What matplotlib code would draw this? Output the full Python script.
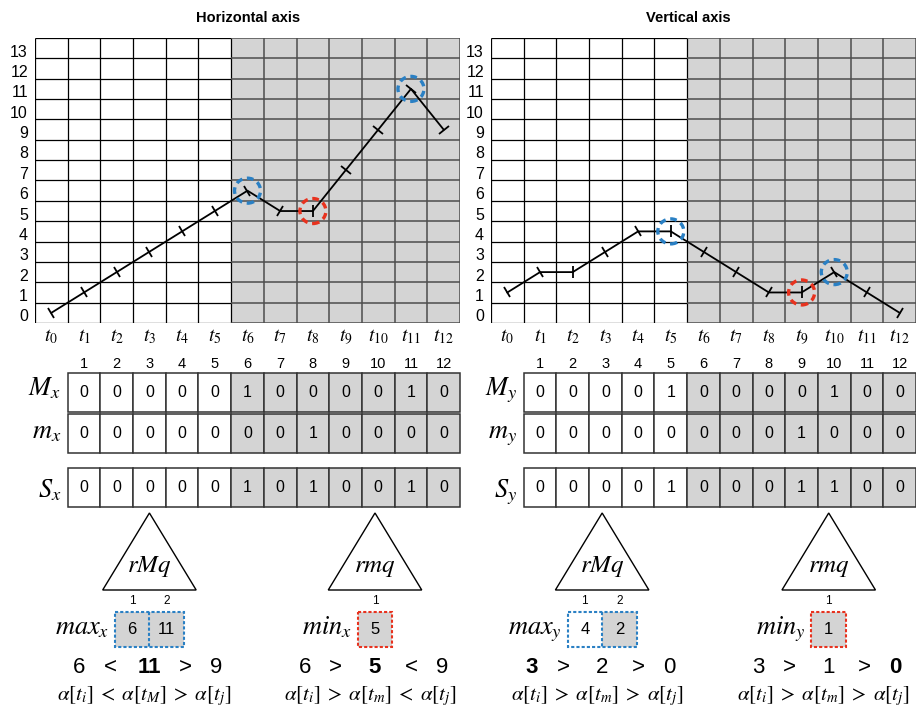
import matplotlib
matplotlib.use("Agg")
import matplotlib.pyplot as plt
from matplotlib.patches import Rectangle, Polygon, Ellipse
from matplotlib.markers import MarkerStyle
from matplotlib.transforms import Affine2D, ScaledTranslation
import numpy as np

# ---------------- data ----------------
steps = list(range(13))
step_labels = [r"$t_{%d}$" % i for i in steps]
levels = list(range(14))
horiz_values = [0, 1, 2, 3, 4, 5, 6, 5, 5, 7, 9, 11, 9]
vert_values = [1, 2, 2, 3, 4, 4, 3, 2, 1, 1, 2, 1, 0]
shade_start = 6

cell_index = list(range(1, 13))
M_x = [0, 0, 0, 0, 0, 1, 0, 0, 0, 0, 1, 0]
m_x = [0, 0, 0, 0, 0, 0, 0, 1, 0, 0, 0, 0]
S_x = [0, 0, 0, 0, 0, 1, 0, 1, 0, 0, 1, 0]
M_y = [0, 0, 0, 0, 1, 0, 0, 0, 0, 1, 0, 0]
m_y = [0, 0, 0, 0, 0, 0, 0, 0, 1, 0, 0, 0]
S_y = [0, 0, 0, 0, 1, 0, 0, 0, 1, 1, 0, 0]

max_x = [6, 11]
max_x_shaded = [True, True]
min_x = [5]
min_x_shaded = [True]
max_y = [4, 2]
max_y_shaded = [False, True]
min_y = [1]
min_y_shaded = [True]

circ_max_x = [6, 11]
circ_min_x = [8]
circ_max_y = [5, 10]
circ_min_y = [9]

cmp_max_x = ["6", "<", "11", ">", "9"]
cmp_min_x = ["6", ">", "5", "<", "9"]
cmp_max_y = ["3", ">", "2", ">", "0"]
cmp_min_y = ["3", ">", "1", ">", "0"]
bold_max_x, bold_min_x, bold_max_y, bold_min_y = 2, 2, 0, 4

formula_max_x = r"$\alpha[t_i]\;<\;\alpha[t_M]\;>\;\alpha[t_j]$"
formula_min_x = r"$\alpha[t_i]\;>\;\alpha[t_m]\;<\;\alpha[t_j]$"
formula_max_y = r"$\alpha[t_i]\;>\;\alpha[t_m]\;>\;\alpha[t_j]$"
formula_min_y = r"$\alpha[t_i]\;>\;\alpha[t_m]\;>\;\alpha[t_j]$"

# ---------------- style ----------------
W, H = 916, 706
plt.rcParams["font.family"] = ["Liberation Sans", "DejaVu Sans"]
plt.rcParams["mathtext.fontset"] = "stix"
GRAY = "#d4d4d4"
BLUE = "#2a80c4"
RED = "#e8321e"

fig = plt.figure(figsize=(W / 100, H / 100), dpi=100)


def px_axes(x, y, w, h):
    return fig.add_axes([x / W, 1 - (y + h) / H, w / W, h / H])


panels = [
    dict(x0=35, title="Horizontal axis", title_x=248, values=horiz_values,
         sub="x", rows=[M_x, m_x, S_x], names=["M", "m", "S"],
         maxv=max_x, maxs=max_x_shaded, minv=min_x, mins=min_x_shaded,
         cmax=circ_max_x, cmin=circ_min_x, tri=[3.0, 9.9],
         cmps=[(cmp_max_x, bold_max_x), (cmp_min_x, bold_min_x)],
         formulas=[formula_max_x, formula_min_x]),
    dict(x0=491, title="Vertical axis", title_x=688, values=vert_values,
         sub="y", rows=[M_y, m_y, S_y], names=["M", "m", "S"],
         maxv=max_y, maxs=max_y_shaded, minv=min_y, mins=min_y_shaded,
         cmax=circ_max_y, cmin=circ_min_y, tri=[2.9, 9.83],
         cmps=[(cmp_max_y, bold_max_y), (cmp_min_y, bold_min_y)],
         formulas=[formula_max_y, formula_min_y]),
]

GW, GH = 425, 285
colw = GW / 13.0
rowh = GH / 14.0

for p in panels:
    # ---------- grid panel ----------
    ax = px_axes(p["x0"], 38, GW, GH)
    ax.set_xlim(-0.5, 12.5)
    ax.set_ylim(-0.5, 13.5)
    for s in ax.spines.values():
        s.set_visible(False)
    ax.axvspan(shade_start - 0.5, 12.5, color=GRAY, zorder=0, lw=0)
    edges_x = np.arange(-0.5, 13.0, 1.0)
    edges_y = np.arange(-0.5, 14.0, 1.0)
    split = shade_start - 0.5
    ax.vlines([e for e in edges_x if e <= split], -0.5, 13.5, color="black", lw=0.9, zorder=1)
    ax.vlines([e for e in edges_x if e > split], -0.5, 13.5, color="#4d4d4d", lw=1.1, zorder=1)
    ax.hlines(edges_y, -0.5, split, color="black", lw=0.9, zorder=1)
    ax.hlines(edges_y, split, 12.5, color="#4d4d4d", lw=1.1, zorder=1)

    vals = p["values"]
    ax.plot(steps, vals, color="black", lw=1.3, zorder=3, clip_on=False)
    for i in steps:
        j0, j1 = (0, 1) if i == 0 else (i - 1, i)
        dx = (steps[j1] - steps[j0]) * colw
        dy = (vals[j1] - vals[j0]) * rowh
        ang = np.degrees(np.arctan2(dy, dx))
        mk = MarkerStyle("|", transform=Affine2D().rotate_deg(ang))
        ax.plot([steps[i]], [vals[i]], marker=mk, ms=9, mew=1.3, color="black",
                zorder=4, clip_on=False)

    for idx in p["cmax"]:
        ax.add_patch(Ellipse((idx, vals[idx]), 26 / colw, 25 / rowh, fill=False,
                             ec=BLUE, lw=2.4, ls=(0, (2.0, 1.4)), zorder=5, clip_on=False))
    for idx in p["cmin"]:
        ax.add_patch(Ellipse((idx, vals[idx]), 26 / colw, 25 / rowh, fill=False,
                             ec=RED, lw=2.4, ls=(0, (2.0, 1.4)), zorder=5, clip_on=False))

    ax.set_xticks(steps)
    ax.set_xticklabels(step_labels, fontsize=14)
    ax.tick_params(axis="x", length=0, pad=3)
    ax.set_yticks([])
    off = ax.transData + ScaledTranslation(-0.07, -0.04, fig.dpi_scale_trans)
    for v in levels:
        ax.text(-0.5, v, str(v), transform=off, ha="right", va="center", fontsize=11.5)

    fig.text(p["title_x"] / W, 1 - 18 / H, p["title"], ha="center", va="center",
             fontsize=10.5, fontweight="bold")

    # ---------- lower area ----------
    lo = px_axes(p["x0"], 340, GW, H - 340)
    lo.set_xlim(-0.5, 12.5)
    lo.set_ylim(H, 340)
    lo.axis("off")

    for i in cell_index:
        lo.text(i, 364, str(i), ha="center", va="center", fontsize=10.5)

    row_spans = [(373, 412), (414, 453), (468, 507)]
    label_base = [395, 438, 497]
    for rv, name, (yt, yb), lb in zip(p["rows"], p["names"], row_spans, label_base):
        for i, v in zip(cell_index, rv):
            fc = GRAY if i >= shade_start else "white"
            lo.add_patch(Rectangle((i - 0.5, yt), 1, yb - yt, fc=fc, ec="#333333",
                                   lw=1.1, clip_on=False))
            lo.text(i, (yt + yb) / 2, str(v), ha="center", va="center", fontsize=11.5)
        lo.text(0.3, lb, r"$%s_{%s}$" % (name, p["sub"]), ha="right",
                va="baseline", fontsize=19)

    # triangles + boxes
    groups = [
        ("rMq", p["maxv"], p["maxs"], BLUE, "max"),
        ("rmq", p["minv"], p["mins"], RED, "min"),
    ]
    for gi, (tname, bv, bs, col, lab) in enumerate(groups):
        c = p["tri"][gi]
        hw = 1.43
        lo.add_patch(Polygon([(c - hw, 590), (c, 513), (c + hw, 590)], closed=True,
                             fc="white", ec="black", lw=1.0, clip_on=False))
        lo.text(c, 572, r"$%s$" % tname, ha="center", va="baseline", fontsize=18)

        bw = 1.06
        n = len(bv)
        left = c - n * bw / 2
        for k, (v, sh) in enumerate(zip(bv, bs)):
            lo.add_patch(Rectangle((left + k * bw, 612), bw, 35, fc=GRAY if sh else "white",
                                   ec="none", clip_on=False))
            lo.text(left + (k + 0.5) * bw, 630, str(v), ha="center", va="center", fontsize=12)
            lo.text(left + (k + 0.5) * bw, 601, str(k + 1), ha="center", va="center", fontsize=8.5)
        lo.add_patch(Rectangle((left, 612), n * bw, 35, fill=False, ec=col, lw=1.5,
                               ls=(0, (1.5, 1.0)), clip_on=False))
        for k in range(1, n):
            lo.plot([left + k * bw] * 2, [612, 647], color=col, lw=1.5,
                    ls=(0, (1.5, 1.0)), clip_on=False)
        lo.text(left - 0.18, 634, r"$%s_{%s}$" % (lab, p["sub"]), ha="right", va="baseline",
                fontsize=19)

        items, bold = p["cmps"][gi]
        offs = [-2.15, -1.2, 0.0, 1.1, 2.05]
        for k, (t, o) in enumerate(zip(items, offs)):
            lo.text(c + o, 673, t, ha="center", va="baseline", fontsize=16,
                    fontweight="bold" if k == bold else "normal")
        lo.text(c - 0.15, 700, p["formulas"][gi], ha="center", va="baseline", fontsize=15)

fig.savefig("out.png", dpi=100)
